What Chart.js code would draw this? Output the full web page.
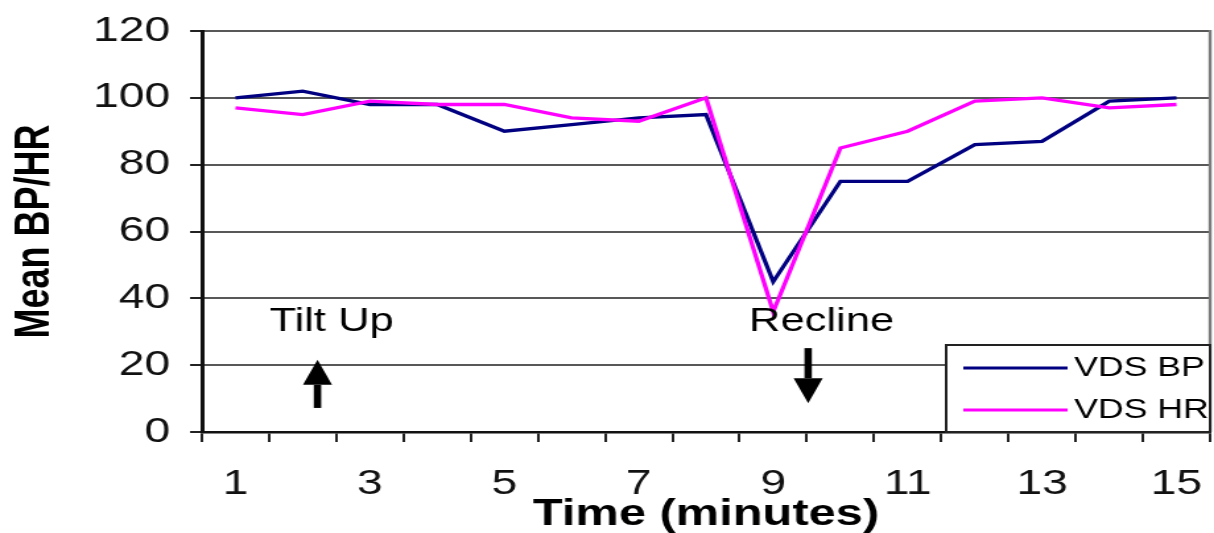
<!DOCTYPE html>
<html>
<head>
<meta charset="utf-8">
<script src="https://cdn.jsdelivr.net/npm/chart.js@4.4.1/dist/chart.umd.min.js"></script>
<style>
  html, body { margin: 0; padding: 0; background: #ffffff; overflow: hidden; }
  /* the figure is drawn narrow and widened horizontally, like the stretched original graphic */
  #wrap { width: 920px; height: 533px; transform: scale(1.3196, 1); transform-origin: 0 0; }
  canvas { display: block; }
</style>
</head>
<body>
<div id="wrap"><canvas id="c" width="920" height="533"></canvas></div>
<script>
// Time axis categories (minutes)
const minutes = ['1', '2', '3', '4', '5', '6', '7', '8', '9', '10', '11', '12', '13', '14', '15'];
// Mean blood pressure and heart rate during the tilt test
const bpValues = [100, 102, 98, 98, 90, 92, 94, 95, 45, 75, 75, 86, 87, 99, 100];
const hrValues = [97, 95, 99, 98, 98, 94, 93, 100, 36, 85, 90, 99, 100, 97, 98];
const seriesNames = ['VDS BP', 'VDS HR'];
const seriesColors = ['#000080', '#ff00ff'];
// Value axis
const yMin = 0, yMax = 120, yStep = 20;
// Event captions
const eventLabels = ['Tilt Up', 'Recline'];

const FONT = "'Liberation Sans', Arial, sans-serif";

// Event markers, placed in axis units (category index, value)
const eventMarks = [
  { text: eventLabels[0], textX: 1.43, textY: 30.2, arrowX: 1.22, from: 7.2, to: 21.6 },
  { text: eventLabels[1], textX: 8.72, textY: 30.2, arrowX: 8.52, from: 25.1, to: 8.6 }
];

function drawArrow(ctx, x, y0, y1) {
  const dir = y1 < y0 ? -1 : 1;
  const headLen = 25, headHalf = 11, shaftHalf = 2.8;
  const yBase = y1 - dir * headLen;
  ctx.fillStyle = '#000';
  ctx.fillRect(x - shaftHalf, Math.min(y0, yBase), shaftHalf * 2, Math.abs(yBase - y0));
  ctx.beginPath();
  ctx.moveTo(x, y1);
  ctx.lineTo(x - headHalf, yBase);
  ctx.lineTo(x + headHalf, yBase);
  ctx.closePath();
  ctx.fill();
}

const extras = {
  id: 'extras',
  afterDatasetsDraw(chart) {
    const { ctx, chartArea, scales } = chart;
    const xs = scales.x, ys = scales.y;
    ctx.save();

    // right-hand plot border
    ctx.strokeStyle = '#7a7a7a';
    ctx.lineWidth = 2.4;
    ctx.beginPath();
    ctx.moveTo(chartArea.right, chartArea.top - 1);
    ctx.lineTo(chartArea.right, chartArea.bottom);
    ctx.stroke();

    // event captions and arrows
    ctx.font = '33px ' + FONT;
    ctx.fillStyle = '#000';
    ctx.textAlign = 'center';
    ctx.textBaseline = 'alphabetic';
    eventMarks.forEach(m => {
      ctx.fillText(m.text, xs.getPixelForValue(m.textX), ys.getPixelForValue(m.textY));
      drawArrow(ctx, xs.getPixelForValue(m.arrowX), ys.getPixelForValue(m.from), ys.getPixelForValue(m.to));
    });

    // legend box inside the plot, lower right
    const right = chartArea.right, bottom = chartArea.bottom;
    const left = right - 200, top = bottom - 87;
    ctx.fillStyle = '#fff';
    ctx.fillRect(left, top, right - left, bottom - top - 1.5);
    ctx.strokeStyle = '#222';
    ctx.lineWidth = 2;
    ctx.strokeRect(left, top, right - left, bottom - top);
    ctx.font = '27px ' + FONT;
    ctx.textAlign = 'left';
    ctx.textBaseline = 'middle';
    chart.data.datasets.forEach((ds, i) => {
      const y = top + 23 + i * 42;
      ctx.strokeStyle = ds.borderColor;
      ctx.lineWidth = 3.2;
      ctx.beginPath();
      ctx.moveTo(left + 13, y);
      ctx.lineTo(left + 92, y);
      ctx.stroke();
      ctx.fillStyle = '#000';
      ctx.fillText(ds.label, left + 97, y + 1);
    });
    ctx.restore();
  }
};

new Chart(document.getElementById('c'), {
  type: 'line',
  data: {
    labels: minutes,
    datasets: [
      { label: seriesNames[0], data: bpValues, borderColor: seriesColors[0], backgroundColor: seriesColors[0],
        borderWidth: 3.3, pointRadius: 0, tension: 0, order: 1 },
      { label: seriesNames[1], data: hrValues, borderColor: seriesColors[1], backgroundColor: seriesColors[1],
        borderWidth: 3.3, pointRadius: 0, tension: 0, order: 0 }
    ]
  },
  options: {
    responsive: false,
    devicePixelRatio: 1,
    animation: false,
    layout: { padding: { top: 31, right: 3, bottom: 0, left: 0 } },
    plugins: { legend: { display: false }, tooltip: { enabled: false } },
    scales: {
      x: {
        type: 'category',
        offset: true,
        grid: { display: true, drawOnChartArea: false, drawTicks: true, tickLength: 10,
                offset: true, tickColor: '#222', lineWidth: 2 },
        border: { display: true, color: '#111', width: 2.6 },
        ticks: {
          autoSkip: false, maxRotation: 0, padding: 21, color: '#111',
          font: { family: FONT, size: 35, lineHeight: 1.2 },
          callback: (v, i) => (i % 2 === 0 ? minutes[i] : '')
        },
        title: { display: true, text: 'Time (minutes)', color: '#000',
                 font: { family: FONT, size: 37, weight: 'bold', lineHeight: 1 },
                 padding: { top: 0, bottom: 0 } },
        afterFit: s => { s.height = 101; s.paddingLeft = 0; s.paddingRight = 0; }
      },
      y: {
        min: yMin, max: yMax,
        grid: { color: '#585858', lineWidth: 2, drawTicks: true, tickLength: 9, tickColor: '#222' },
        border: { display: true, color: '#111', width: 3 },
        ticks: { stepSize: yStep, padding: 15, color: '#111', font: { family: FONT, size: 35 } },
        title: { display: true, text: 'Mean BP/HR', color: '#000',
                 font: { family: FONT, size: 36, weight: 'bold', lineHeight: 1 },
                 padding: { top: 9, bottom: 0 } },
        afterFit: s => { s.width = 153; s.paddingTop = 0; s.paddingBottom = 0; }
      }
    }
  },
  plugins: [extras]
});
</script>
</body>
</html>
